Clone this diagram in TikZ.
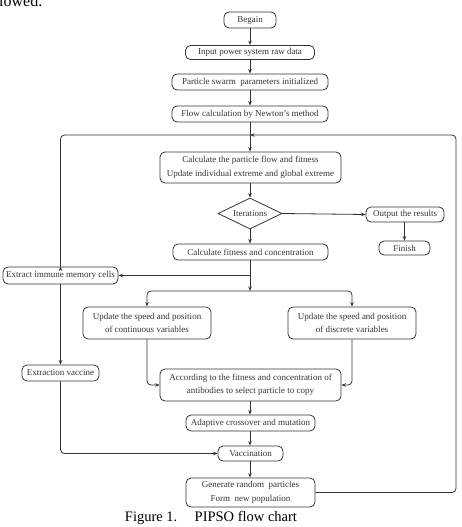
\documentclass[tikz,border=0pt]{standalone}
\usepackage{fontspec}
\setmainfont{Liberation Serif}
\usetikzlibrary{arrows.meta,shapes.geometric}
\definecolor{ink}{HTML}{333333}
\tikzset{
  box/.style={draw=ink, line width=0.8pt, rounded corners=5pt, inner sep=0pt, align=center,
    font=\fontsize{9}{13.5}\selectfont, text=ink},
  dia/.style={draw=ink, line width=0.8pt, diamond, aspect=2.06, inner sep=0pt,
    minimum width=64pt, minimum height=31pt, font=\fontsize{9}{11}\selectfont, text=ink},
  conn/.style={draw=ink, line width=0.8pt},
  arr/.style={conn, -{Stealth[length=4.5pt,width=3.5pt]}},
}
\begin{document}
\begin{tikzpicture}[x=1pt,y=-1pt]
\useasboundingbox (0,0) rectangle (461,527);
% stray text from page above
\node[anchor=base west, inner sep=0pt, font=\fontsize{16}{16}\selectfont] (prev) at (-1,6.5) {lowed.};
% nodes
\node[box, minimum width=52pt, minimum height=16pt] (begin) at (250,20) {Begain};
\node[box, minimum width=129pt, minimum height=14pt] (input) at (250,52.5) {Input power system raw data};
\node[box, minimum width=156pt, minimum height=16pt] (pso) at (250,82) {Particle swarm\ \ parameters initialized};
\node[box, minimum width=156pt, minimum height=16pt] (flow) at (250,114) {Flow calculation by Newton's method};
\node[box, minimum width=181pt, minimum height=31pt] (calc) at (250.5,167.5) {Calculate the particle flow and fitness\\Update individual extreme and global extreme};
\node[dia] (iter) at (250,213.5) {Iterations};
\node[box, minimum width=78pt, minimum height=15pt] (out) at (405,214.5) {Output the results};
\node[box, minimum width=51pt, minimum height=14pt] (finish) at (404.5,248) {Finish};
\node[box, minimum width=155pt, minimum height=16pt] (fit) at (250.5,252) {Calculate fitness and concentration};
\node[box, minimum width=115pt, minimum height=17pt] (mem) at (60.5,275.5) {Extract immune memory cells};
\node[box, minimum width=128pt, minimum height=32pt] (cont) at (147,323) {Update the speed and position\\of continuous variables};
\node[box, minimum width=128pt, minimum height=32pt] (disc) at (352,323) {Update the speed and position\\of discrete variables};
\node[box, minimum width=77pt, minimum height=16pt] (vac) at (60.5,373) {Extraction vaccine};
\node[box, minimum width=181pt, minimum height=32pt] (acc) at (250.5,385) {According to the fitness and concentration of\\antibodies to select particle to copy};
\node[box, minimum width=129pt, minimum height=16pt] (adapt) at (250.5,423) {Adaptive crossover and mutation};
\node[box, minimum width=65pt, minimum height=15pt] (vacc) at (250.5,453.5) {Vaccination};
\node[box, minimum width=129pt, minimum height=29pt] (gen) at (250.5,492.5) {Generate random\ \ particles\\Form\ \ new population};
\node[inner sep=0pt, anchor=base, font=\fontsize{14.5}{15}\selectfont] (cap) at (211,521) {Figure 1.\hspace{1.2em}PIPSO flow chart};
% helper coordinates
\coordinate (J) at (250,135);
\coordinate (R) at (456,135);
\coordinate (K) at (250,291);
% connectors
\draw[arr] (begin) -- (input);
\draw[arr] (input) -- (pso);
\draw[arr] (pso) -- (flow);
\draw[arr] (flow.south -| J) -- (calc.north -| J);
\draw[conn, rounded corners=4pt] (J) -| (mem.north) ;
\draw[arr] (mem.north |- 0,270) -- (mem.north);
\draw[arr, rounded corners=4pt] (gen.east) -| (R) -- (J);
\draw[arr] (calc.south -| J) -- (iter.north);
\draw[arr] (iter.east) -- (out.west);
\draw[arr] (out.south -| finish) -- (finish.north);
\draw[arr] (iter.south) -- (fit.north -| iter);
\draw[arr] (fit.south -| J) -- (K);
\draw[arr] (mem.east -| J) -- (mem.east);
\draw[arr, rounded corners=4pt] (K) -| (cont.north);
\draw[arr, rounded corners=4pt] (K) -| (disc.north);
\draw[arr, rounded corners=4pt] (cont.south) |- (acc.west);
\draw[arr, rounded corners=4pt] (disc.south) |- (acc.east);
\draw[arr] (mem.south) -- (vac.north);
\draw[arr, rounded corners=4pt] (vac.south) |- (vacc.west);
\draw[arr] (acc.south -| J) -- (adapt.north -| J);
\draw[arr] (adapt.south -| J) -- (vacc.north -| J);
\draw[arr] (vacc.south -| J) -- (gen.north -| J);
\end{tikzpicture}
\end{document}
